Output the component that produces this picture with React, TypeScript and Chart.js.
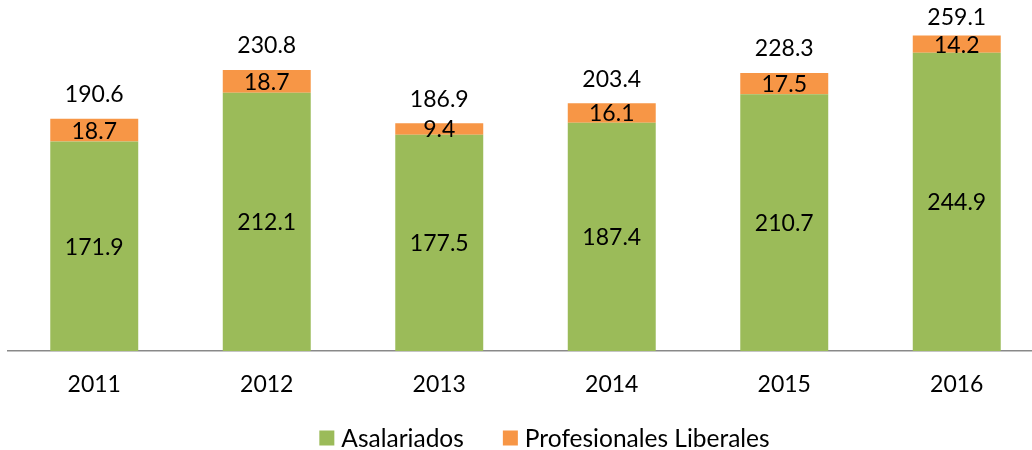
import React, { useEffect, useRef } from "react";
import { Chart, registerables } from "chart.js";

Chart.register(...registerables);

const years = ["2011", "2012", "2013", "2014", "2015", "2016"];
const asalariados = [171.9, 212.1, 177.5, 187.4, 210.7, 244.9];
const profesionales = [18.7, 18.7, 9.4, 16.1, 17.5, 14.2];
const totales = [190.6, 230.8, 186.9, 203.4, 228.3, 259.1];

const FONT = "Lato, 'Open Sans', sans-serif";
const NUM_SIZE = 23;
const LEGEND_SIZE = 24.5;

const labelPlugin = {
  id: "valueLabels",
  afterDatasetsDraw(chart: any) {
    const ctx = chart.ctx;
    ctx.save();
    ctx.font = `${NUM_SIZE}px ${FONT}`;
    ctx.fillStyle = "#000";
    ctx.textAlign = "center";
    ctx.textBaseline = "middle";
    chart.data.datasets.forEach((ds: any, di: number) => {
      const meta = chart.getDatasetMeta(di);
      meta.data.forEach((bar: any, i: number) => {
        const { x, y, base } = bar.getProps(["x", "y", "base"], true);
        ctx.fillText(Number(ds.data[i]).toFixed(1), x, (y + base) / 2 + 1);
      });
    });
    const last = chart.getDatasetMeta(chart.data.datasets.length - 1);
    last.data.forEach((bar: any, i: number) => {
      const { x, y } = bar.getProps(["x", "y"], true);
      ctx.fillText(totales[i].toFixed(1), x, Math.max(y - 24, 18));
    });
    ctx.restore();
  },
};

const legendPlugin = {
  id: "bottomLegend",
  afterDraw(chart: any) {
    const ctx = chart.ctx;
    ctx.save();
    ctx.font = `${LEGEND_SIZE}px ${FONT}`;
    ctx.textBaseline = "middle";
    ctx.textAlign = "left";
    const box = 15;
    const gapText = 7;
    const gapItem = 39;
    const items = chart.data.datasets.map((ds: any) => ({
      text: ds.label as string,
      color: ds.backgroundColor as string,
    }));
    const widths = items.map(
      (it: any) => box + gapText + ctx.measureText(it.text).width
    );
    const total =
      widths.reduce((a: number, b: number) => a + b, 0) +
      gapItem * (items.length - 1);
    let x = 544.5 - total / 2;
    const cy = 438;
    items.forEach((it: any, i: number) => {
      ctx.fillStyle = it.color;
      ctx.fillRect(x, cy - box / 2, box, box);
      ctx.fillStyle = "#000";
      ctx.fillText(it.text, x + box + gapText, cy + 1);
      x += widths[i] + gapItem;
    });
    ctx.restore();
  },
};

export default function App() {
  const ref = useRef<HTMLCanvasElement | null>(null);
  useEffect(() => {
    if (!ref.current) return;
    const chart = new Chart(ref.current, {
      type: "bar",
      data: {
        labels: years,
        datasets: [
          {
            label: "Asalariados",
            data: asalariados,
            backgroundColor: "#9BBB59",
            categoryPercentage: 1,
            barPercentage: 0.51,
          },
          {
            label: "Profesionales Liberales",
            data: profesionales,
            backgroundColor: "#F79646",
            categoryPercentage: 1,
            barPercentage: 0.51,
          },
        ],
      },
      options: {
        responsive: false,
        animation: false,
        layout: { padding: { top: 10, left: 8, right: 7, bottom: 31.5 } },
        plugins: {
          legend: { display: false },
          tooltip: { enabled: false },
        },
        scales: {
          x: {
            stacked: true,
            grid: { display: false, drawTicks: false },
            border: { display: true, color: "#898989", width: 1.5 },
            ticks: {
              color: "#000",
              font: { family: FONT, size: NUM_SIZE },
              padding: 20,
            },
          },
          y: {
            stacked: true,
            display: false,
            min: 0,
            max: 280,
          },
        },
      },
      plugins: [labelPlugin, legendPlugin],
    });
    return () => chart.destroy();
  }, []);
  return (
    <div
      style={{
        position: "fixed",
        left: 0,
        top: 0,
        width: 1032,
        height: 450,
        overflow: "hidden",
        background: "#fff",
      }}
    >
      <canvas ref={ref} width={1050} height={450} />
    </div>
  );
}
